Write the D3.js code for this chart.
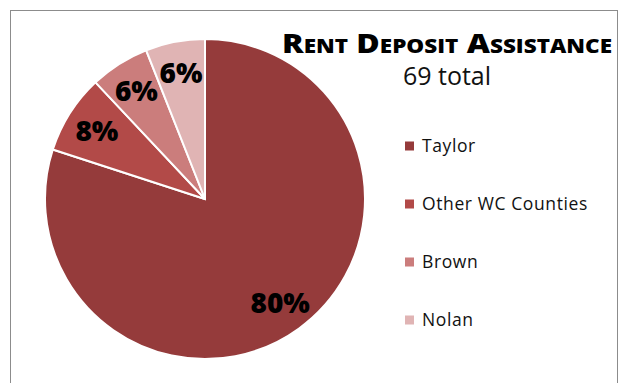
<!DOCTYPE html>
<html>
<head>
<meta charset="utf-8">
<script src="https://cdn.jsdelivr.net/npm/d3@7/dist/d3.min.js"></script>
<style>
  body { margin: 0; background: #fff; }
  svg { display: block; }
  .sliceLabel { font-family: 'Open Sans', sans-serif; font-weight: 800; font-size: 28px; fill: #000; }
  .legendLabel { font-family: 'Open Sans', sans-serif; font-size: 17.5px; letter-spacing: 0.6px; fill: #111; }
</style>
</head>
<body>
<div id="chart"></div>
<script>
// Chart data.
var categories = ['Taylor', 'Other WC Counties', 'Brown', 'Nolan'];
var percents = [80, 8, 6, 6];
var colors = ['#953b3b', '#b24a48', '#cb7d7c', '#e0b4b4'];
var title = 'Rent Deposit Assistance';
var subtitle = '69 total';

var WIDTH = 621, HEIGHT = 383;
var CX = 205, CY = 199, RADIUS = 160;

var svg = d3.select('#chart').append('svg')
    .attr('width', WIDTH)
    .attr('height', HEIGHT);

// Chart frame.
svg.append('rect')
    .attr('x', 10.5)
    .attr('y', 10.5)
    .attr('width', 607)
    .attr('height', 400)
    .style('fill', 'none')
    .style('stroke', '#8c8c8c')
    .style('stroke-width', 1);

var pie = d3.pie().sort(null).value(function(d) { return d; });
var arcs = pie(percents);
var arc = d3.arc().innerRadius(0).outerRadius(RADIUS);
var labelArc = d3.arc().innerRadius(RADIUS * 0.8).outerRadius(RADIUS * 0.8);

var g = svg.append('g')
    .attr('transform', 'translate(' + CX + ', ' + CY + ')');

g.selectAll('path.slice').data(arcs)
  .enter().append('path')
    .classed('slice', true)
    .attr('d', arc)
    .style('fill', function(d, i) { return colors[i]; })
    .style('stroke', '#fff')
    .style('stroke-width', 2);

g.selectAll('text.sliceLabel').data(arcs)
  .enter().append('text')
    .classed('sliceLabel', true)
    .attr('transform', function(d) { return 'translate(' + labelArc.centroid(d) + ')'; })
    .attr('text-anchor', 'middle')
    .attr('dy', '0.36em')
    .text(function(d) { return d.data + '%'; });

// Title.
svg.append('text')
    .attr('x', 447)
    .attr('y', 53)
    .attr('text-anchor', 'middle')
    .attr('textLength', 330)
    .attr('lengthAdjust', 'spacingAndGlyphs')
    .style('font-family', "'Open Sans', sans-serif")
    .style('font-weight', 800)
    .style('font-size', '27px')
    .style('font-variant', 'small-caps')
    .style('fill', '#000')
    .text(title);

svg.append('text')
    .attr('x', 447)
    .attr('y', 85)
    .attr('text-anchor', 'middle')
    .style('font-family', "'Open Sans', sans-serif")
    .style('font-size', '25px')
    .style('fill', '#111')
    .text(subtitle);

// Legend.
var legendY = d3.scalePoint().domain(categories).range([146, 320]);
var legend = svg.selectAll('g.legend').data(categories)
  .enter().append('g')
    .classed('legend', true)
    .attr('transform', function(d) { return 'translate(405, ' + legendY(d) + ')'; });

legend.append('rect')
    .attr('x', 0)
    .attr('y', -4.5)
    .attr('width', 9)
    .attr('height', 9)
    .style('fill', function(d, i) { return colors[i]; });

legend.append('text')
    .classed('legendLabel', true)
    .attr('x', 17)
    .attr('dy', '0.35em')
    .text(function(d) { return d; });
</script>
</body>
</html>
